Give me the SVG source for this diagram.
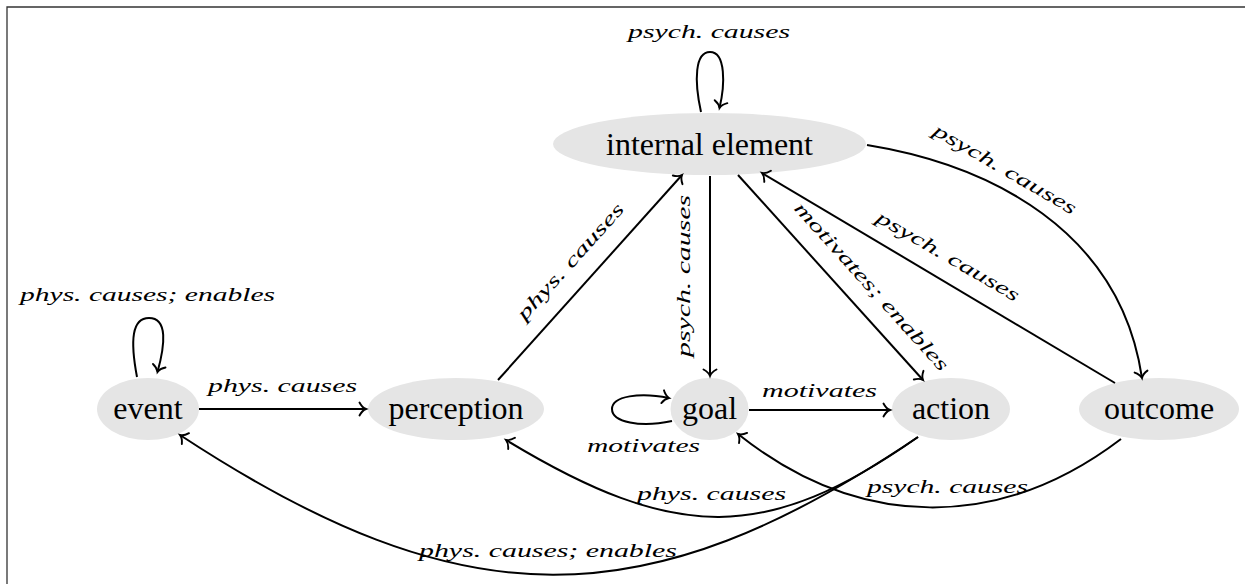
<svg xmlns="http://www.w3.org/2000/svg" width="1248" height="584" viewBox="0 0 1248 584">
<defs>
<style>
.node{fill:#e5e5e5;stroke:none}
.nt{font-family:"Liberation Serif",serif;font-size:32px;fill:#000;text-anchor:middle}
.el{font-family:"Liberation Serif",serif;font-style:italic;font-size:19px;fill:#000;text-anchor:middle}
.edge{fill:none;stroke:#000;stroke-width:2;marker-end:url(#arr)}
.frame{fill:none;stroke:#333;stroke-width:1.3}
</style>
<marker id="arr" markerUnits="userSpaceOnUse" viewBox="-8 -8 10 16" refX="0" refY="0" markerWidth="10" markerHeight="16" orient="auto" overflow="visible">
<path d="M-6.5,-6.5 C-4.5,-2.7 -1.6,-0.6 0,0 C-1.6,0.6 -4.5,2.7 -6.5,6.5" fill="none" stroke="#000" stroke-width="1.9" stroke-linecap="round"/>
</marker>
</defs>
<rect width="1248" height="584" fill="#fff"/>
<path class="frame" d="M1245,7 H7 V584"/>

<g id="node-internal"><ellipse class="node" cx="709.5" cy="144" rx="156.5" ry="31"/><text class="nt" x="709.5" y="155">internal element</text></g>
<g id="node-event"><ellipse class="node" cx="148" cy="409" rx="51" ry="31"/><text class="nt" x="148" y="419">event</text></g>
<g id="node-perception"><ellipse class="node" cx="456" cy="409" rx="88" ry="31"/><text class="nt" x="456" y="419">perception</text></g>
<g id="node-goal"><ellipse class="node" cx="709.5" cy="409" rx="39" ry="31"/><text class="nt" x="709.5" y="419">goal</text></g>
<g id="node-action"><ellipse class="node" cx="951" cy="409" rx="59" ry="31"/><text class="nt" x="951" y="419">action</text></g>
<g id="node-outcome"><ellipse class="node" cx="1159" cy="409" rx="80" ry="31"/><text class="nt" x="1159" y="419">outcome</text></g>

<g id="connectors">
<path class="edge" d="M137,377 C130,340 132,318 149,318 C168,318 165,345 157.5,372"/>
<path class="edge" d="M199,409 H366"/>
<path class="edge" d="M498,380 L682,175"/>
<path class="edge" d="M710,176 V376"/>
<path class="edge" d="M701,112 C694,80 695,52 710,52 C726,52 725,85 719.5,108"/>
<path class="edge" d="M738,175 L923,380"/>
<path class="edge" d="M1115,383 L762,173"/>
<path class="edge" d="M867,145 C990,165 1120,230 1142,378"/>
<path class="edge" d="M672,421 C640,428 612,422 612,409 C612,396 640,392 669,398"/>
<path class="edge" d="M749,410 H890"/>
<path class="edge" d="M918,437 C767,543 676,543 506,440"/>
<path class="edge" d="M918,437 C645,621 463,621 180,435"/>
<path class="edge" d="M1121,439 C1000,531 860,531 738,434"/>

<text class="el" x="147.5" y="301" textLength="255" lengthAdjust="spacingAndGlyphs">phys. causes; enables</text>
<text class="el" x="282.5" y="392" textLength="149" lengthAdjust="spacingAndGlyphs">phys. causes</text>
<text class="el" x="709" y="38" textLength="162" lengthAdjust="spacingAndGlyphs">psych. causes</text>
<text class="el" transform="translate(572,263) rotate(-48)" x="0" y="4" textLength="150" lengthAdjust="spacingAndGlyphs">phys. causes</text>
<text class="el" transform="translate(686,276) rotate(-90)" x="0" y="4" textLength="162" lengthAdjust="spacingAndGlyphs">psych. causes</text>
<text class="el" transform="translate(870,288) rotate(47.9)" x="0" y="4" textLength="220" lengthAdjust="spacingAndGlyphs">motivates; enables</text>
<text class="el" transform="translate(947,258) rotate(30)" x="0" y="4" textLength="162" lengthAdjust="spacingAndGlyphs">psych. causes</text>
<text class="el" transform="translate(1004,171) rotate(30)" x="0" y="4" textLength="162" lengthAdjust="spacingAndGlyphs">psych. causes</text>
<text class="el" x="819.5" y="397" textLength="115" lengthAdjust="spacingAndGlyphs">motivates</text>
<text class="el" x="643.5" y="452" textLength="113" lengthAdjust="spacingAndGlyphs">motivates</text>
<text class="el" x="711.5" y="500" textLength="149" lengthAdjust="spacingAndGlyphs">phys. causes</text>
<text class="el" x="947.5" y="493" textLength="161" lengthAdjust="spacingAndGlyphs">psych. causes</text>
<text class="el" x="548" y="557" textLength="258" lengthAdjust="spacingAndGlyphs">phys. causes; enables</text>
</g>
</svg>
